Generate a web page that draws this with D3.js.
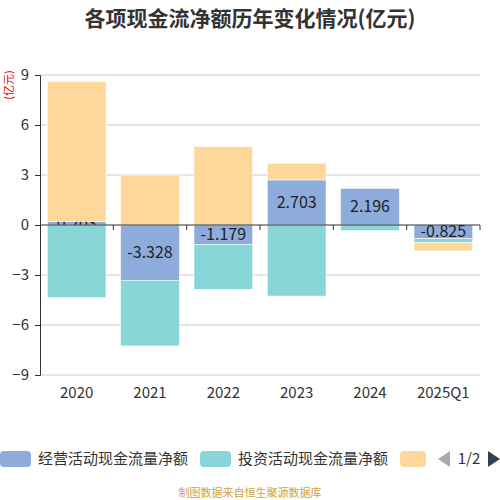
<!DOCTYPE html>
<html>
<head>
<meta charset="utf-8">
<script src="https://cdn.jsdelivr.net/npm/d3@7"></script>
<style>
  body { margin: 0; background: #fff; }
  svg { font-family: "Noto Sans CJK SC", "Noto Sans", sans-serif; }
</style>
</head>
<body>
<div class="canva"></div>
<script>
const categories = ['2020', '2021', '2022', '2023', '2024', '2025Q1']
const operating = [0.203, -3.328, -1.179, 2.703, 2.196, -0.825]
const investing = [-4.36, -3.93, -2.68, -4.26, -0.34, -0.23]
const financing = [8.4, 3.0, 4.7, 1.0, 0, -0.5]
const seriesNames = ['经营活动现金流量净额', '投资活动现金流量净额', '筹资活动现金流量净额']
const colors = ['#8eacdb', '#88d6d8', '#fed89b']
const yTicks = [-9, -6, -3, 0, 3, 6, 9]

const svg = d3.select('.canva').append('svg')
              .attr('width', 500)
              .attr('height', 500)

const margin = { top: 75, right: 20, bottom: 125, left: 40 }
const width = 500 - margin.left - margin.right
const height = 500 - margin.top - margin.bottom

// title
svg.append('text')
   .attr('x', 250).attr('y', 26)
   .attr('text-anchor', 'middle')
   .attr('font-size', 21).attr('font-weight', 'bold')
   .attr('fill', '#333')
   .text('各项现金流净额历年变化情况(亿元)')

const x = d3.scaleBand().domain(categories).range([0, width]).paddingInner(0.2).paddingOuter(0.1)
const y = d3.scaleLinear().domain([-9, 9]).range([height, 0])

const g = svg.append('g').attr('transform', `translate(${margin.left},${margin.top})`)

// grid
g.selectAll('.grid').data(yTicks.filter(d => d !== 0)).enter()
 .append('line')
 .attr('x1', 0).attr('x2', width)
 .attr('y1', d => y(d)).attr('y2', d => y(d))
 .attr('stroke', '#ccc')

// stacked rows, positive and negative stacked separately
const all = [operating, investing, financing]
const rects = []
categories.forEach((c, i) => {
  let pos = 0, neg = 0
  all.forEach((arr, s) => {
    const v = arr[i]
    let y0, y1
    if (v >= 0) { y0 = pos; y1 = pos + v; pos = y1 }
    else { y0 = neg; y1 = neg + v; neg = y1 }
    rects.push({ cat: c, s: s, v: v, y0: y0, y1: y1 })
  })
})

g.selectAll('.bar').data(rects).enter()
 .append('rect')
 .attr('x', d => x(d.cat))
 .attr('width', x.bandwidth())
 .attr('y', d => y(Math.max(d.y0, d.y1)))
 .attr('height', d => Math.abs(y(d.y0) - y(d.y1)))
 .attr('fill', d => colors[d.s])
 .attr('stroke', '#fff').attr('stroke-width', 0.5)

// labels for operating, kept behind the later series
g.selectAll('.lbl').data(rects.filter(d => d.s === 0)).enter()
 .append('text')
 .attr('x', d => x(d.cat) + x.bandwidth() / 2)
 .attr('y', d => (y(d.y0) + y(d.y1)) / 2)
 .attr('dy', '0.35em')
 .attr('text-anchor', 'middle')
 .attr('font-size', 16)
 .attr('fill', '#222')
 .text(d => d.v.toFixed(3))
 .each(function(d) {
   const r = g.selectAll('rect').filter(e => e.cat === d.cat && e.s === 1).node()
   g.node().insertBefore(this, r)
 })

// x axis at zero
const xAxis = g.append('g').attr('transform', `translate(0,${y(0)})`)
xAxis.append('line').attr('x1', 0).attr('x2', width).attr('stroke', '#333')
const bounds = d3.range(1, categories.length + 1).map(i => i * width / categories.length)
xAxis.selectAll('.tk').data(bounds).enter()
     .append('line')
     .attr('x1', d => d).attr('x2', d => d)
     .attr('y1', 0).attr('y2', 5)
     .attr('stroke', '#333')

g.selectAll('.xl').data(categories).enter()
 .append('text')
 .attr('x', (d, i) => (i + 0.5) * width / categories.length)
 .attr('y', height + 23)
 .attr('text-anchor', 'middle')
 .attr('font-size', 15)
 .attr('fill', '#333')
 .text(d => d)

// y axis
const yAxis = g.append('g')
               .call(d3.axisLeft(y).tickValues(yTicks).tickSize(5).tickPadding(6))
yAxis.select('.domain').attr('stroke', '#333')
yAxis.selectAll('.tick line').attr('stroke', '#333')
yAxis.selectAll('.tick text').attr('font-size', 15).attr('fill', '#333')
     .attr('font-family', '"Noto Sans CJK SC", sans-serif')

// unit label
svg.append('text')
   .attr('transform', 'translate(13,85) rotate(-90)')
   .attr('text-anchor', 'middle')
   .attr('font-size', 11)
   .attr('fill', '#e00')
   .text('(亿元)')

// legend
const leg = svg.append('g').attr('transform', 'translate(0,459)')
const legPos = [0, 200, 400]
seriesNames.forEach((n, i) => {
  leg.append('rect')
     .attr('x', legPos[i]).attr('y', -8)
     .attr('width', i === 2 ? 26 : 31).attr('height', 16)
     .attr('rx', 4)
     .attr('fill', colors[i])
  if (i < 2) {
    leg.append('text')
       .attr('x', legPos[i] + 38).attr('y', 0)
       .attr('dy', '0.35em')
       .attr('font-size', 15)
       .attr('fill', '#333')
       .text(n)
  }
})
leg.append('path').attr('d', 'M438,0 L450,-8 L450,8 Z').attr('fill', '#aaa')
leg.append('text').attr('x', 469).attr('y', 0).attr('dy', '0.35em')
   .attr('text-anchor', 'middle').attr('font-size', 15).attr('fill', '#333').text('1/2')
leg.append('path').attr('d', 'M488,-8 L500,0 L488,8 Z').attr('fill', '#2f4554')

// source
svg.append('text')
   .attr('x', 250).attr('y', 497)
   .attr('text-anchor', 'middle')
   .attr('font-size', 11)
   .attr('fill', '#d4a23a')
   .text('制图数据来自恒生聚源数据库')
</script>
</body>
</html>
